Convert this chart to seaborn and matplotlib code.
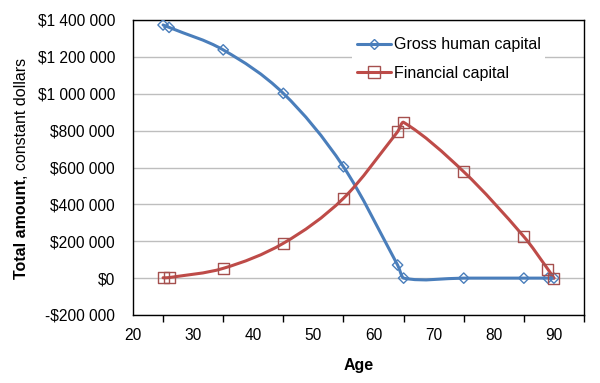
import numpy as np
import pandas as pd
import matplotlib
matplotlib.use("Agg")
import matplotlib.pyplot as plt
import seaborn as sns
from matplotlib.path import Path
from matplotlib.patches import PathPatch
from matplotlib.lines import Line2D
from matplotlib.ticker import FuncFormatter, MultipleLocator

# ---- data ----
ages = [25, 26, 35, 45, 55, 64, 65, 75, 85, 89, 90]
human_capital = [1373000, 1360000, 1238000, 1002000, 604000, 71000, 0, 0, 0, 0, 0]
financial_capital = [2000, 3000, 53000, 189000, 433000, 794000, 845000, 577000, 225000, 48000, 0]
series_names = ["Gross human capital", "Financial capital"]
x_ticks = [20, 30, 40, 50, 60, 70, 80, 90]
y_ticks = [-200000, 0, 200000, 400000, 600000, 800000, 1000000, 1200000, 1400000]

BLUE = "#4A7EBB"
RED = "#BE4B48"

sns.set_style("white")
plt.rcParams["font.family"] = ["Liberation Sans", "DejaVu Sans"]
plt.rcParams["text.color"] = "black"
plt.rcParams["axes.labelcolor"] = "black"
plt.rcParams["xtick.color"] = "black"
plt.rcParams["ytick.color"] = "black"

df = pd.DataFrame({
    "Age": ages * 2,
    "Value": human_capital + financial_capital,
    "Series": [series_names[0]] * len(ages) + [series_names[1]] * len(ages),
})

fig = plt.figure(figsize=(6.0, 3.83), dpi=100)
ax = fig.add_axes([133 / 600, 1 - 315 / 383, 451 / 600, 295 / 383])


def smooth_path(x, y):
    """Cubic Bezier path through the points (smoothed line, like a spreadsheet chart)."""
    x = np.asarray(x, float)
    y = np.asarray(y, float)
    n = len(x)
    m = np.zeros(n)
    for i in range(n):
        if i == 0:
            m[i] = (y[1] - y[0]) / (x[1] - x[0])
        elif i == n - 1:
            m[i] = (y[-1] - y[-2]) / (x[-1] - x[-2])
        else:
            m[i] = (y[i + 1] - y[i - 1]) / (x[i + 1] - x[i - 1])
    verts = [(x[0], y[0])]
    codes = [Path.MOVETO]
    for i in range(n - 1):
        h = x[i + 1] - x[i]
        verts += [(x[i] + h / 3, y[i] + m[i] * h / 3),
                  (x[i + 1] - h / 3, y[i + 1] - m[i + 1] * h / 3),
                  (x[i + 1], y[i + 1])]
        codes += [Path.CURVE4] * 3
    return Path(verts, codes)


for vals, col in [(human_capital, BLUE), (financial_capital, RED)]:
    ax.add_patch(PathPatch(smooth_path(ages, vals), facecolor="none",
                           edgecolor=col, lw=2.2, zorder=3, capstyle="round",
                           joinstyle="round"))

sub_h = df[df["Series"] == series_names[0]]
sub_f = df[df["Series"] == series_names[1]]
sns.scatterplot(data=sub_h, x="Age", y="Value", ax=ax, marker="D", s=28,
                facecolor="none", edgecolor=BLUE, linewidth=1.0, zorder=4,
                legend=False)
sns.scatterplot(data=sub_f, x="Age", y="Value", ax=ax, marker="s", s=64,
                facecolor="none", edgecolor="#A5504E", linewidth=1.0, zorder=4,
                legend=False)

ax.set_xlim(20, 95)
ax.set_ylim(-200000, 1400000)
ax.set_xticks(x_ticks)
ax.xaxis.set_minor_locator(MultipleLocator(5))
ax.set_yticks(y_ticks)


def money(v, pos):
    s = f"{abs(int(round(v))):,}".replace(",", " ")
    return ("-$" if v < 0 else "$") + s


ax.yaxis.set_major_formatter(FuncFormatter(money))
ax.tick_params(axis="both", which="major", direction="out", length=5, width=1,
               color="black", labelsize=11.2, labelcolor="black")
ax.tick_params(axis="y", pad=8)
ax.tick_params(axis="x", pad=4)
ax.tick_params(axis="x", which="minor", direction="out", length=5, width=1,
               color="black", bottom=True)
ax.yaxis.grid(True, color="#BEBEBE", lw=1)
ax.xaxis.grid(False)
ax.set_axisbelow(True)
for sp in ax.spines.values():
    sp.set_visible(True)
    sp.set_color("black")
    sp.set_linewidth(1.0)

ax.set_xlabel("Age", fontsize=11.5, fontweight="bold", labelpad=11, color="black")
ax.set_ylabel("")
ax.text(-0.248, 0.46, "Total amount", transform=ax.transAxes, rotation=90,
        rotation_mode="anchor", ha="right", va="center", fontsize=11.5,
        fontweight="bold", color="black")
ax.text(-0.248, 0.46, ", constant dollars", transform=ax.transAxes, rotation=90,
        rotation_mode="anchor", ha="left", va="center", fontsize=11.5,
        color="black")

handles = [
    Line2D([], [], color=BLUE, lw=2.2, marker="D", markersize=5,
           markerfacecolor="none", markeredgecolor=BLUE, markeredgewidth=1.0),
    Line2D([], [], color=RED, lw=2.2, marker="s", markersize=8,
           markerfacecolor="none", markeredgecolor="#A5504E", markeredgewidth=1.0),
]
leg = ax.legend(handles, series_names, loc="upper left",
                bbox_to_anchor=(0.486, 0.958), fontsize=11.5, frameon=True,
                fancybox=False, framealpha=1, edgecolor="none",
                facecolor="white", handlelength=2.1, handletextpad=0.2,
                labelspacing=0.85, borderpad=0.3, borderaxespad=0,
                labelcolor="black")
leg.set_zorder(5)

fig.savefig("out.png", dpi=100)
